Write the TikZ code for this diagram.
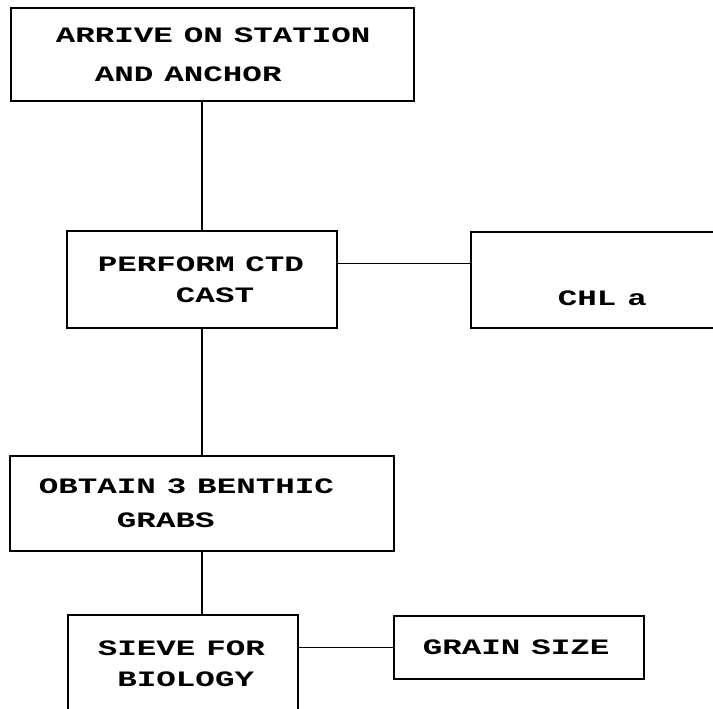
\documentclass[tikz,border=0pt]{standalone}
\usepackage{fontspec}
\setmonofont{Liberation Mono}
\usepackage{graphicx}
\usepackage{tikz}
\newcommand{\wideline}[1]{\scalebox{1.48}[1]{#1}}

\tikzset{
  flowbox/.style={draw, line width=1.6pt, anchor=north west, align=left,
    inner ysep=0pt, font=\ttfamily\bfseries\fontsize{22}{31}\selectfont},
  stem/.style={line width=2.5pt},
  branch/.style={line width=1.3pt}
}

\begin{document}
\begin{tikzpicture}[x=1pt, y=-1pt]
  \useasboundingbox (0,0) rectangle (713,709);

  % main column
  \node[flowbox, inner xsep=45pt, text width=313pt, minimum height=93pt] (arrive) at (10,7)
    {\wideline{ARRIVE ON STATION}\\[8pt]\wideline{\hphantom{AR}AND ANCHOR}};
  \node[flowbox, inner xsep=31pt, text width=208pt, minimum height=97pt] (perform) at (66,230)
    {\wideline{PERFORM CTD}\\\wideline{\hphantom{PERF}CAST}};
  \node[flowbox, inner xsep=29pt, text width=326pt, minimum height=95pt] (grabs) at (9,455)
    {\wideline{OBTAIN 3 BENTHIC}\\[3pt]\wideline{\hphantom{OBTA}GRABS}};
  \node[flowbox, inner xsep=30pt, text width=170pt, minimum height=98pt] (sieve) at (67,614)
    {\wideline{SIEVE FOR}\\\wideline{\hphantom{S}BIOLOGY}};

  % side samples
  \node[flowbox, inner xsep=87pt, text width=156pt, minimum height=96pt] (chl) at (470,231)
    {\mbox{}\\[20pt]\wideline{CHL a}};
  \node[flowbox, inner xsep=29pt, text width=192pt, minimum height=63pt] (grain) at (393,615)
    {\wideline{GRAIN SIZE}};

  % connectors
  \draw[stem] (perform.north |- arrive.south) -- (perform.north);
  \draw[stem] (perform.south) -- (grabs.north);
  \draw[stem] (grabs.south) -- (grabs.south |- sieve.north);
  \draw[branch] ([yshift=16pt]perform.east) -- ([yshift=16pt]perform.east -| chl.west);
  \draw[branch] (grain.west -| sieve.east) -- (grain.west);
\end{tikzpicture}
\end{document}
